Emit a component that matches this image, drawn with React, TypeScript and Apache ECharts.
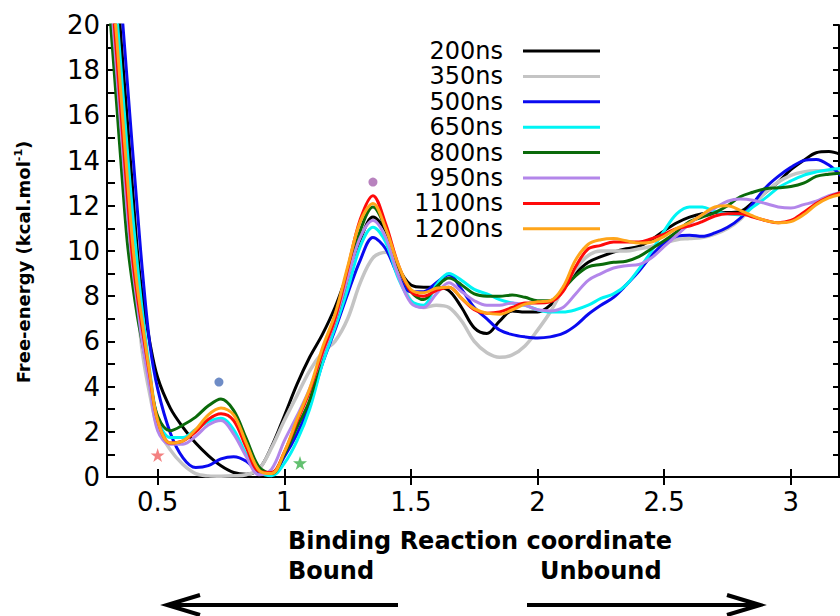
import React, { useEffect, useRef } from "react";
import * as echarts from "echarts";

// Reaction coordinate sample positions
const X = [
  0.30, 0.32, 0.34, 0.36, 0.38, 0.40, 0.42, 0.44, 0.47, 0.50,
  0.55, 0.60, 0.65, 0.70, 0.75, 0.80, 0.85, 0.90, 0.95, 1.00,
  1.05, 1.10, 1.15, 1.20, 1.25, 1.30, 1.35, 1.40, 1.45, 1.50,
  1.55, 1.60, 1.65, 1.70, 1.75, 1.80, 1.85, 1.90, 1.95, 2.00,
  2.05, 2.10, 2.15, 2.20, 2.25, 2.30, 2.35, 2.40, 2.45, 2.50,
  2.55, 2.60, 2.65, 2.70, 2.75, 2.80, 2.85, 2.90, 2.95, 3.00,
  3.05, 3.10, 3.15, 3.20,
];

const Y200 = [
  27.5, 24.6, 21.7, 18.7, 15.8, 12.9, 10.0, 8.0, 5.9, 4.4,
  3.05, 2.2, 1.5, 0.95, 0.5, 0.2, 0.12, 0.35, 1.35, 2.7,
  4.1, 5.3, 6.3, 7.5, 9.0, 10.5, 11.5, 10.9, 9.3, 8.5,
  8.4, 8.4, 8.25, 7.5, 6.6, 6.35, 6.9, 7.35, 7.3, 7.3,
  7.6, 8.3, 9.0, 9.5, 9.75, 9.95, 10.1, 10.2, 10.5, 10.9,
  11.25, 11.5, 11.65, 11.7, 11.7, 11.75, 12.15, 12.6, 13.05, 13.6,
  14.0, 14.35, 14.4, 14.25,
];

const Y350 = [
  25, 22, 19, 16, 13, 10.3, 7.7, 5.5, 3.6, 2.2,
  1.2, 0.55, 0.15, 0.05, 0.03, 0.05, 0.1, 0.35, 1.3, 2.5,
  3.6, 4.7, 5.5, 6.0, 7.0, 8.6, 9.7, 9.95, 9.0, 7.8,
  7.5, 7.6, 7.5, 6.9, 6.0, 5.5, 5.3, 5.4, 5.8, 6.5,
  7.3, 8.3, 9.2, 9.8, 10.0, 10.0, 10.0, 10.1, 10.2, 10.35,
  10.5, 10.55, 10.6, 10.75, 11.0, 11.4, 12.0, 12.6, 13.05, 13.35,
  13.5, 13.55, 13.55, 13.55,
];

const Y500 = [
  29, 26.2, 23.3, 20.4, 17.5, 14.6, 11.8, 9.1, 5.8, 3.9,
  1.95, 0.85, 0.42, 0.5, 0.8, 0.9, 0.7, 0.2, 0.1, 0.9,
  1.9, 3.2, 5.0, 6.5, 8.1, 9.6, 10.6, 10.1, 8.9, 8.2,
  8.2, 8.6, 8.95, 8.3, 7.5, 7.0, 6.5, 6.3, 6.2, 6.15,
  6.2, 6.35, 6.7, 7.2, 7.6, 7.95, 8.5, 9.1, 9.8, 10.35,
  10.65, 10.7, 10.65, 10.8, 11.05, 11.45, 12.1, 12.8, 13.3, 13.7,
  14.0, 14.05, 13.8, 13.3,
];

const Y650 = [
  26, 23.2, 20.3, 17.4, 14.5, 11.8, 9.4, 7.3, 4.6, 2.6,
  1.75, 1.75, 2.1, 2.45, 2.6, 2.1, 1.0, 0.25, 0.05, 0.6,
  1.6, 3.0, 5.0, 6.6, 8.3, 10.2, 11.05, 10.4, 8.8, 7.8,
  7.6, 8.5, 9.0, 8.7, 8.3, 8.1, 7.85, 7.7, 7.6, 7.4,
  7.3, 7.3, 7.4, 7.6, 7.9, 8.1, 8.5, 9.2, 10.0, 10.9,
  11.65, 11.95, 11.95, 11.75, 11.65, 11.6, 11.95, 12.35, 12.8, 13.1,
  13.35, 13.5, 13.6, 13.65,
];

const Y800 = [
  22.2, 19.2, 16.2, 13.2, 10.4, 8.6, 7.1, 5.9, 4.2, 2.7,
  2.05, 2.3, 2.65, 3.15, 3.45, 2.95, 1.7, 0.45, 0.15, 1.0,
  2.2, 3.4, 5.4, 6.9, 8.8, 10.9, 11.95, 11.0, 9.3, 8.2,
  7.85, 8.4, 8.8, 8.5, 8.1, 8.0, 8.0, 8.05, 7.95, 7.8,
  7.8, 8.3, 8.9, 9.3, 9.4, 9.5, 9.55, 9.75, 10.1, 10.45,
  10.85, 11.3, 11.5, 11.7, 12.0, 12.4, 12.6, 12.75, 12.8, 12.85,
  13.0, 13.3, 13.4, 13.45,
];

const Y950 = [
  23.6, 20.6, 17.6, 14.7, 11.7, 9.4, 7.6, 5.9, 3.9, 2.05,
  1.45, 1.45, 1.8, 2.3, 2.5, 1.9, 0.9, 0.1, 0.35, 1.6,
  2.7, 3.9, 5.4, 6.9, 8.8, 10.6, 11.35, 10.6, 8.9, 7.7,
  7.5, 8.1, 8.6, 8.2, 7.8, 7.6, 7.6, 7.7, 7.6, 7.4,
  7.35, 7.5, 8.1, 8.7, 9.0, 9.25, 9.35, 9.4, 9.7, 10.2,
  10.7, 11.2, 11.6, 11.9, 12.2, 12.3, 12.25, 12.1, 11.95, 11.9,
  12.05, 12.2, 12.45, 12.6,
];

const Y1100 = [
  24.3, 21.3, 18.4, 15.4, 12.5, 9.8, 8.0, 6.5, 4.4, 2.5,
  1.5, 1.6, 2.0, 2.55, 2.8, 2.5, 1.3, 0.25, 0.2, 1.1,
  2.45, 3.8, 5.5, 7.0, 9.2, 11.4, 12.45, 11.2, 9.4, 8.2,
  8.0, 8.25, 8.4, 7.9, 7.4, 7.25, 7.3, 7.5, 7.7, 7.7,
  7.75, 8.2, 9.3, 10.1, 10.25, 10.4, 10.4, 10.4, 10.55, 10.75,
  11.0, 11.1, 11.3, 11.55, 11.65, 11.65, 11.5, 11.35, 11.25, 11.35,
  11.7, 12.1, 12.4, 12.6,
];

const Y1200 = [
  25, 22, 19.2, 16.2, 13.3, 10.5, 8.4, 6.8, 4.5, 2.5,
  1.5, 1.6, 2.1, 2.75, 3.05, 2.75, 1.5, 0.3, 0.15, 1.1,
  2.55, 3.9, 5.7, 7.2, 9.3, 11.3, 12.1, 11.0, 9.4, 8.3,
  8.15, 8.35, 8.4, 7.9, 7.45, 7.25, 7.2, 7.4, 7.65, 7.75,
  7.8, 8.4, 9.6, 10.3, 10.5, 10.55, 10.45, 10.35, 10.4, 10.65,
  11.0, 11.25, 11.6, 11.95, 12.0, 11.8, 11.55, 11.35, 11.25, 11.3,
  11.6, 12.05, 12.35, 12.5,
];

const SERIES_NAMES = ["200ns", "350ns", "500ns", "650ns", "800ns", "950ns", "1100ns", "1200ns"];
const SERIES_COLORS = ["#000000", "#c4c4c4", "#0a0af0", "#00f4f4", "#0a6a0a", "#b386ea", "#ff0a0a", "#ffa51a"];
const SERIES_VALUES = [Y200, Y350, Y500, Y650, Y800, Y950, Y1100, Y1200];

const X_TICKS = [0.5, 1, 1.5, 2, 2.5, 3];

const STAR_POINTS = [[0.5, 0.97], [1.062, 0.62]];
const STAR_COLORS = ["#f06262", "#3cb04c"];
const DOT_POINTS = [[0.742, 4.2], [1.35, 13.05]];
const DOT_COLORS = ["#4a6fb8", "#a663ae"];

const STAR_PATH =
  "path://M50 0 L61.8 35.1 L98.9 35.1 L68.9 56.9 L80.4 91.9 L50 70.2 L19.6 91.9 L31.1 56.9 L1.1 35.1 L38.2 35.1 Z";

const FONT = "DejaVu Sans";

export default function App() {
  const ref = useRef<HTMLDivElement>(null);

  useEffect(() => {
    if (!ref.current) return;
    const chart = echarts.init(ref.current, undefined, { renderer: "svg" });

    const lineSeries = SERIES_NAMES.map((name, k) => ({
      name,
      type: "line",
      data: X.map((x, i) => [x, SERIES_VALUES[k][i]]),
      smooth: 0.35,
      symbol: "none",
      showSymbol: false,
      clip: true,
      lineStyle: { color: SERIES_COLORS[k], width: k === 1 ? 3.5 : 3 },
      itemStyle: { color: SERIES_COLORS[k] },
      emphasis: { disabled: true },
      z: 2 + k,
    }));

    const starSeries = STAR_POINTS.map((p, k) => ({
      type: "scatter",
      data: [p],
      symbol: STAR_PATH,
      symbolSize: 14,
      itemStyle: { color: STAR_COLORS[k] },
      z: 20,
    }));
    const dotSeries = DOT_POINTS.map((p, k) => ({
      type: "scatter",
      data: [p],
      symbol: "circle",
      symbolSize: 9,
      itemStyle: { color: DOT_COLORS[k] },
      z: 20,
    }));

    const axisLine = { show: true, lineStyle: { color: "#000", width: 2 } };
    const tick = { show: true, inside: true, length: 8, lineStyle: { color: "#000", width: 2 } };

    chart.setOption({
      animation: false,
      backgroundColor: "#ffffff",
      grid: { left: 107, right: 1, top: 25, bottom: 139, containLabel: false },
      legend: {
        data: SERIES_NAMES,
        orient: "vertical",
        align: "right",
        right: 240,
        top: 39,
        padding: 0,
        itemGap: 1.4,
        icon: "rect",
        itemWidth: 77,
        itemHeight: 3,
        selectedMode: false,
        textStyle: {
          fontFamily: FONT,
          fontSize: 24,
          color: "#000",
          lineHeight: 24,
          padding: [0, 15, 0, 0],
        },
      },
      xAxis: [
        {
          type: "value",
          min: 0.3,
          max: 3.19,
          position: "bottom",
          axisLine,
          axisTick: { ...tick, customValues: X_TICKS },
          axisLabel: {
            customValues: X_TICKS,
            fontFamily: FONT,
            fontSize: 26,
            color: "#000",
            margin: 12,
          },
          splitLine: { show: false },
        },
        {
          type: "value",
          min: 0.3,
          max: 3.19,
          position: "top",
          axisLine,
          axisTick: { ...tick, customValues: X_TICKS },
          axisLabel: { show: false },
          splitLine: { show: false },
        },
      ],
      yAxis: [
        {
          type: "value",
          min: 0,
          max: 20,
          interval: 2,
          position: "left",
          axisLine,
          axisTick: tick,
          minorTick: { show: true, splitNumber: 2, length: 8, lineStyle: { color: "#000", width: 2 } },
          axisLabel: { fontFamily: FONT, fontSize: 26, color: "#000", margin: 7 },
          splitLine: { show: false },
          minorSplitLine: { show: false },
        },
        {
          type: "value",
          min: 0,
          max: 20,
          interval: 2,
          position: "right",
          axisLine,
          axisTick: { ...tick, length: 6 },
          minorTick: { show: true, splitNumber: 2, length: 6, lineStyle: { color: "#000", width: 2 } },
          axisLabel: { show: false },
          splitLine: { show: false },
          minorSplitLine: { show: false },
        },
      ],
      series: [...lineSeries, ...starSeries, ...dotSeries],
      graphic: [
        {
          type: "text",
          x: 23,
          y: 262,
          rotation: Math.PI / 2,
          style: {
            text: "Free-energy (kcal.mol{sup|-1})",
            font: `bold 18px "${FONT}"`,
            fill: "#000",
            align: "center",
            verticalAlign: "middle",
            rich: {
              sup: { font: `bold 11px "${FONT}"`, fill: "#000", verticalAlign: "top", lineHeight: 20 },
            },
          },
        },
        {
          type: "text",
          x: 288,
          y: 541,
          style: {
            text: "Binding Reaction coordinate",
            font: `bold 24px "${FONT}"`,
            fill: "#000",
            align: "left",
            verticalAlign: "middle",
          },
        },
        {
          type: "text",
          x: 288,
          y: 571,
          style: { text: "Bound", font: `bold 24px "${FONT}"`, fill: "#000", align: "left", verticalAlign: "middle" },
        },
        {
          type: "text",
          x: 540,
          y: 571,
          style: { text: "Unbound", font: `bold 24px "${FONT}"`, fill: "#000", align: "left", verticalAlign: "middle" },
        },
        { type: "line", shape: { x1: 170, y1: 605, x2: 398, y2: 605 }, style: { stroke: "#000", lineWidth: 4 } },
        {
          type: "polyline",
          shape: { points: [[200, 595], [167, 605], [200, 615]] },
          style: { stroke: "#000", lineWidth: 4, fill: null },
        },
        { type: "line", shape: { x1: 527, y1: 605, x2: 757, y2: 605 }, style: { stroke: "#000", lineWidth: 4 } },
        {
          type: "polyline",
          shape: { points: [[727, 595], [760, 605], [727, 615]] },
          style: { stroke: "#000", lineWidth: 4, fill: null },
        },
      ],
    });

    return () => chart.dispose();
  }, []);

  return (
    <div
      ref={ref}
      style={{ position: "fixed", left: 0, top: 0, width: 840, height: 616, background: "#fff" }}
    />
  );
}
